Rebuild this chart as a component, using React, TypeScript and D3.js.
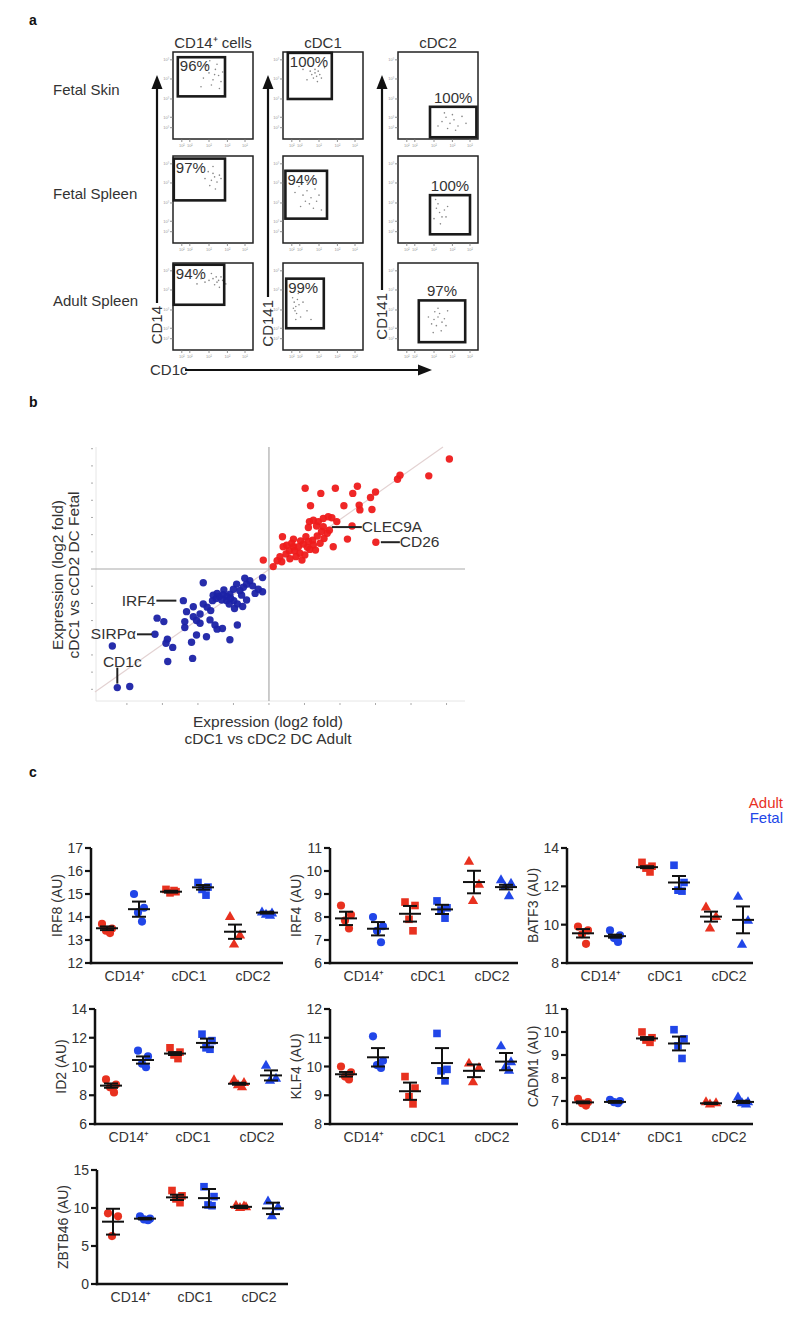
import React from "react";
import * as d3 from "d3";

// ---------------- Panel a data ----------------
const facsRowLabels = ["Fetal Skin", "Fetal Spleen", "Adult Spleen"];
const facsColLabels = ["CD14⁺ cells", "cDC1", "cDC2"];
const facsYAxisLabels = ["CD14", "CD141", "CD141"];
const facsPercents = [
  ["96%", "100%", "100%"],
  ["97%", "94%", "100%"],
  ["94%", "99%", "97%"],
];
// gates [x0, x1, y0, y1] in plot units (0..100, y up)
const facsGates = [
  [[6, 65, 49, 94], [6, 61, 46, 99], [40, 98, 2, 37]],
  [[1, 65, 49, 97], [3, 55, 28, 83], [40, 90, 10, 55]],
  [[1, 64, 52, 98], [4, 51, 25, 82], [26, 84, 9, 57]],
];
const facsDots = [
  [
    [[38,70],[45,76],[50,68],[53,80],[57,73],[60,66],[48,62],[42,84],[55,86],[62,77],[35,60],[52,74],[58,58],[46,90]],
    [[36,74],[40,76],[42,72],[38,70],[44,78],[40,80],[46,74],[34,78],[48,70],[30,68],[43,66],[52,82],[25,80]],
    [[55,20],[60,25],[65,18],[70,22],[75,15],[62,12],[80,26],[58,30],[68,28],[85,18],[72,10],[50,15]],
  ],
  [
    [[48,72],[52,76],[50,80],[55,70],[46,66],[58,78],[44,82],[53,62],[60,74],[40,74],[50,88]],
    [[25,55],[30,60],[35,52],[28,48],[40,62],[20,65],[33,45],[45,55],[38,40],[22,42],[30,70],[42,48],[15,58],[48,38]],
    [[48,40],[52,35],[55,30],[50,45],[58,38],[45,28],[62,42],[53,22],[47,50],[60,30]],
  ],
  [
    [[45,80],[50,82],[55,78],[60,84],[52,75],[40,78],[35,82],[58,72],[62,80],[48,88],[30,76],[66,76],[54,84],[57,80]],
    [[14,55],[16,50],[15,45],[18,58],[13,48],[17,42],[20,52],[12,60],[22,38],[25,55],[30,45],[19,65],[35,35],[16,35]],
    [[45,35],[50,38],[55,32],[48,28],[52,42],[58,36],[42,30],[46,44],[60,28],[38,38],[54,22],[62,45],[50,48],[44,20]],
  ],
];
const facsXTicks = [11, 21, 45, 68, 90];
const facsYTicks = [13, 25, 46, 69, 91];

// ---------------- Panel b data ----------------
const cdc1Red: [number, number][] = [
  [5.08,3.2],[4.5,2.71],[3.69,2.73],[3.62,2.61],[1.02,2.35],[1.46,2.2],[1.87,2.35],[2.49,2.41],[2.36,2.2],[3.0,2.24],
  [2.86,2.08],[1.17,1.84],[2.11,1.84],[2.54,1.86],[2.9,1.73],[2.56,1.72],[1.14,1.38],[1.25,1.42],[1.39,1.38],[1.53,1.47],
  [1.67,1.52],[1.77,1.49],[1.34,1.25],[1.53,1.23],[1.11,1.21],[1.7,1.13],[2.34,1.25],[2.21,0.87],[3.01,0.78],[0.38,0.94],
  [0.69,0.87],[0.89,0.82],[1.04,0.94],[1.23,0.84],[1.36,0.96],[1.55,0.89],[1.64,1.04],[1.25,0.7],[1.08,0.63],[0.69,0.65],
  [0.57,0.53],[0.48,0.44],[0.31,0.36],[0.23,0.24],[0.87,0.46],[0.76,0.36],[0.59,0.3],[0.93,0.26],[0.72,0.53],[1.15,0.57],
  [1.31,0.55],[0.5,0.69],[0.97,0.73],[-0.16,0.26],[0.12,0.07],[0.4,0.65],[0.83,0.65],[1.01,0.41],[1.48,1.09],[1.91,1.38],
  [1.81,0.65],[0.64,0.75],[1.11,0.8],[0.36,0.21],[1.44,0.75],
];
const cdc2Blue: [number, number][] = [
  [-0.18,-0.25],[-0.18,-0.66],[-0.3,-0.59],[-0.54,-0.34],[-0.63,-0.44],[-0.46,-0.49],[-0.72,-0.53],[-0.82,-0.63],[-0.91,-0.44],[-1.0,-0.59],
  [-1.1,-0.73],[-1.19,-0.8],[-1.29,-0.75],[-1.4,-0.8],[-1.49,-0.86],[-1.59,-0.92],[-1.46,-0.71],[-1.27,-0.61],[-1.19,-0.92],[-0.99,-0.92],
  [-0.89,-1.02],[-0.74,-1.09],[-0.97,-1.15],[-1.12,-1.02],[-1.85,-0.4],[-2.41,-0.92],[-2.32,-1.24],[-2.13,-1.39],[-2.04,-1.5],[-1.94,-1.31],
  [-1.85,-1.02],[-1.74,-1.11],[-1.64,-1.21],[-3.15,-1.43],[-2.96,-1.53],[-3.21,-1.9],[-2.37,-1.7],[-2.37,-1.53],[-2.04,-1.92],[-1.76,-1.97],
  [-1.52,-1.63],[-1.46,-1.75],[-1.31,-1.73],[-0.89,-1.63],[-1.1,-2.06],[-2.86,-2.04],[-2.9,-2.16],[-2.71,-2.28],[-2.18,-2.13],[-2.85,-2.69],
  [-2.15,-2.6],[-4.41,-2.24],[-4.27,-3.45],[-3.92,-3.42],[-1.66,-1.48],[-1.57,-0.76],[-1.33,-0.9],[-1.08,-0.85],[-0.77,-0.76],[-0.68,-0.27],
  [-0.39,-0.71],[-1.94,-1.58],[-2.13,-1.1],[-0.63,-0.9],
];
const bLabels = ["CLEC9A", "CD26", "IRF4", "SIRPα", "CD1c"];
const bLabelPoints: [number, number][] = [[1.77, 1.22], [3.01, 0.78], [-2.41, -0.92], [-3.21, -1.9], [-4.27, -3.45]];
const bXTicks = [-4, -3, -2, -1, 0, 1, 2, 3, 4, 5];
const bYTicks = [-3.5, -3, -2.5, -2, -1.5, -1, -0.5, 0, 0.5, 1, 1.5, 2, 2.5, 3, 3.5];
const bDiagonal: [number, number][] = [[-4.9, -3.58], [4.9, 3.55]];

// ---------------- Panel c data ----------------
const cellTypes = ["CD14⁺", "cDC1", "cDC2"];
const groupKeys = ["CD14-A", "CD14-F", "cDC1-A", "cDC1-F", "cDC2-A", "cDC2-F"];
const genes = ["IRF8", "IRF4", "BATF3", "ID2", "KLF4", "CADM1", "ZBTB46"];
const yDomains = [[12, 17], [6, 11], [8, 14], [6, 14], [8, 12], [6, 11], [0, 15]];
const yTickValues = [
  [12, 13, 14, 15, 16, 17], [6, 7, 8, 9, 10, 11], [8, 10, 12, 14], [6, 8, 10, 12, 14],
  [8, 9, 10, 11, 12], [6, 7, 8, 9, 10, 11], [0, 5, 10, 15],
];
// order: Adult CD14, Fetal CD14, Adult cDC1, Fetal cDC1, Adult cDC2, Fetal cDC2
const irf8Points = [[13.7,13.5,13.4,13.3],[15.0,14.4,14.2,13.8],[15.2,15.1,15.05,15.15],[15.5,15.3,15.2,14.95],[14.0,13.2,12.8],[14.2,14.15,14.1,14.05]];
const irf8Means = [13.51, 14.34, 15.1, 15.29, 13.36, 14.19];
const irf8Errs = [0.08, 0.33, 0.04, 0.1, 0.31, 0.04];
const irf4Points = [[8.5,8.1,7.85,7.5],[8.0,7.6,7.4,6.9],[8.65,8.5,7.9,7.4],[8.7,8.4,8.3,7.95],[10.4,9.4,8.7],[9.6,9.45,9.3,8.9]];
const irf4Means = [7.94, 7.49, 8.14, 8.33, 9.52, 9.3];
const irf4Errs = [0.29, 0.29, 0.34, 0.2, 0.49, 0.1];
const batf3Points = [[9.9,9.7,9.5,9.0],[9.7,9.45,9.3,9.1],[13.25,13.05,12.95,12.75],[13.1,12.2,11.8,11.75],[10.9,10.4,9.8],[11.45,10.2,8.95]];
const batf3Means = [9.55, 9.4, 13.0, 12.2, 10.42, 10.25];
const batf3Errs = [0.22, 0.08, 0.05, 0.34, 0.26, 0.7];
const id2Points = [[9.1,8.75,8.55,8.2],[11.1,10.7,10.2,9.95],[11.3,11.0,10.8,10.55],[12.25,11.8,11.3,11.2],[9.05,8.85,8.7,8.55],[10.05,9.15,9.0]];
const id2Means = [8.67, 10.45, 10.9, 11.64, 8.8, 9.38];
const id2Errs = [0.15, 0.25, 0.1, 0.3, 0.07, 0.35];
const klf4Points = [[10.0,9.8,9.65,9.55],[11.05,10.2,10.05,9.95],[9.65,9.25,8.95,8.7],[11.15,9.9,9.85,9.5],[10.1,9.95,9.45],[10.7,10.15,9.95,9.85]];
const klf4Means = [9.73, 10.32, 9.14, 10.12, 9.85, 10.17];
const klf4Errs = [0.08, 0.32, 0.3, 0.52, 0.22, 0.3];
const cadm1Points = [[7.1,6.95,6.9,6.8],[7.05,7.0,6.95,6.9],[10.0,9.75,9.65,9.55],[10.1,9.7,9.4,8.85],[6.95,6.9,6.85],[7.15,6.95,6.9,6.85]];
const cadm1Means = [6.94, 6.96, 9.72, 9.5, 6.9, 6.96];
const cadm1Errs = [0.04, 0.04, 0.06, 0.3, 0.03, 0.05];
const zbtb46Points = [[9.3,8.9,6.3],[8.9,8.6,8.5,8.4],[12.3,11.6,11.2,10.7],[12.8,11.5,10.4,10.3],[10.3,10.1,10.0,10.2],[10.85,10.1,8.9]];
const zbtb46Means = [8.2, 8.6, 11.4, 11.3, 10.15, 9.95];
const zbtb46Errs = [1.7, 0.1, 0.35, 1.2, 0.15, 0.75];

const allPoints = [irf8Points, irf4Points, batf3Points, id2Points, klf4Points, cadm1Points, zbtb46Points];
const allMeans = [irf8Means, irf4Means, batf3Means, id2Means, klf4Means, cadm1Means, zbtb46Means];
const allErrs = [irf8Errs, irf4Errs, batf3Errs, id2Errs, klf4Errs, cadm1Errs, zbtb46Errs];

// ---------------- styles / layout ----------------
const FONT = "'Liberation Sans', Arial, Helvetica, sans-serif";
const TXT = "#333";
const RED_C = "#e8311f";
const BLUE_C = "#2146e8";
const RED_B = "#ee1b1b";
const BLUE_B = "#1b22a6";

const subplotLayout = [
  { x0: 91, x1: 283, top: 848, bottom: 963 },
  { x0: 330, x1: 518, top: 848, bottom: 963 },
  { x0: 567, x1: 753, top: 848, bottom: 963 },
  { x0: 95, x1: 283, top: 1009, bottom: 1124 },
  { x0: 330, x1: 518, top: 1009, bottom: 1124 },
  { x0: 567, x1: 753, top: 1009, bottom: 1124 },
  { x0: 97, x1: 288, top: 1170, bottom: 1284 },
];
const jitter = [-5, 5, -1, 3];

function Arrow({ x1, y1, x2, y2 }: { x1: number; y1: number; x2: number; y2: number }) {
  const ang = Math.atan2(y2 - y1, x2 - x1);
  const len = 14, half = 5.5;
  const bx = x2 - len * Math.cos(ang), by = y2 - len * Math.sin(ang);
  const px = -Math.sin(ang) * half, py = Math.cos(ang) * half;
  return (
    <g>
      <line x1={x1} y1={y1} x2={bx} y2={by} stroke="#111" strokeWidth={2.2} />
      <path d={`M${x2},${y2}L${bx + px},${by + py}L${bx - px},${by - py}Z`} fill="#111" />
    </g>
  );
}

function PanelA() {
  const colX = [173, 283, 398];
  const rowY = [52, 156, 263];
  const boxW = 80, boxH = 87;
  const arrowX = [157, 268, 382];
  const arrowBottom = [303, 297, 290];
  return (
    <g fontFamily={FONT}>
      <text x={29} y={25} fontSize={14} fontWeight="bold" fill="#111">a</text>
      {facsColLabels.map((l, c) => (
        <text key={l} x={colX[c] + boxW / 2} y={48} textAnchor="middle" fontSize={15} fill={TXT}>{l}</text>
      ))}
      {facsRowLabels.map((l, r) => (
        <text key={l} x={53} y={rowY[r] + 43} fontSize={15} fill={TXT}>{l}</text>
      ))}
      {facsRowLabels.map((_, r) =>
        facsColLabels.map((_, c) => {
          const bx = colX[c], by = rowY[r];
          const xs = d3.scaleLinear().domain([0, 100]).range([bx, bx + boxW]);
          const ys = d3.scaleLinear().domain([0, 100]).range([by + boxH, by]);
          const g = facsGates[r][c];
          const gx = xs(g[0]), gy = ys(g[3]), gw = xs(g[1]) - xs(g[0]), gh = ys(g[2]) - ys(g[3]);
          return (
            <g key={`${r}-${c}`}>
              <rect x={bx} y={by} width={boxW} height={boxH} fill="none" stroke="#222" strokeWidth={1.5} />
              {facsXTicks.map((t) => (
                <g key={`x${t}`}>
                  <line x1={xs(t)} x2={xs(t)} y1={by + boxH} y2={by + boxH + 3} stroke="#777" strokeWidth={0.8} />
                  <text x={xs(t)} y={by + boxH + 8} fontSize={4} fill="#999" textAnchor="middle">10²</text>
                </g>
              ))}
              {facsYTicks.map((t) => (
                <g key={`y${t}`}>
                  <line x1={bx - 3} x2={bx} y1={ys(t)} y2={ys(t)} stroke="#777" strokeWidth={0.8} />
                  <text x={bx - 4} y={ys(t) + 1.5} fontSize={4} fill="#999" textAnchor="end">10³</text>
                </g>
              ))}
              {facsDots[r][c].map((p, i) => (
                <circle key={i} cx={xs(p[0])} cy={ys(p[1])} r={0.8} fill="#888" />
              ))}
              <rect x={gx} y={gy} width={gw} height={gh} fill="none" stroke="#1a1a1a" strokeWidth={2.6} />
              {c < 2 ? (
                <text x={gx + 2} y={gy + 14} fontSize={15} fill={TXT}>{facsPercents[r][c]}</text>
              ) : (
                <text x={gx + gw / 2} y={gy - 4} fontSize={15} fill={TXT} textAnchor="middle">{facsPercents[r][c]}</text>
              )}
            </g>
          );
        })
      )}
      {arrowX.map((x, i) => (
        <g key={i}>
          <Arrow x1={x} y1={arrowBottom[i]} x2={x} y2={75} />
          <text transform={`translate(${x + 5},${arrowBottom[i] + 3}) rotate(-90)`} textAnchor="end" fontSize={15} fill={TXT}>
            {facsYAxisLabels[i]}
          </text>
        </g>
      ))}
      <text x={150} y={375} fontSize={15} fill={TXT}>CD1c</text>
      <Arrow x1={185} y1={370} x2={432} y2={370} />
    </g>
  );
}

function PanelB() {
  const xs = d3.scaleLinear().domain([-4.87, 5.52]).range([96, 465]);
  const ys = d3.scaleLinear().domain([-3.84, 3.55]).range([701, 447]);
  const lp = bLabelPoints.map((p) => [xs(p[0]), ys(p[1])]);
  return (
    <g fontFamily={FONT}>
      <text x={29} y={407} fontSize={14} fontWeight="bold" fill="#111">b</text>
      {/* frame */}
      <line x1={96} x2={96} y1={447} y2={701} stroke="#e6e6e6" strokeWidth={1} />
      <line x1={96} x2={465} y1={701} y2={701} stroke="#e6e6e6" strokeWidth={1} />
      {bYTicks.map((t) => (
        <line key={t} x1={91} x2={93} y1={ys(t)} y2={ys(t)} stroke="#aaa" strokeWidth={1} />
      ))}
      {bXTicks.map((t) => (
        <line key={t} x1={xs(t)} x2={xs(t)} y1={703} y2={705} stroke="#aaa" strokeWidth={1} />
      ))}
      <line x1={xs(bDiagonal[0][0])} y1={ys(bDiagonal[0][1])} x2={xs(bDiagonal[1][0])} y2={ys(bDiagonal[1][1])} stroke="#e3d2d2" strokeWidth={1.2} />
      <line x1={xs(0)} x2={xs(0)} y1={447} y2={701} stroke="#aaa" strokeWidth={1.2} />
      <line x1={93} x2={465} y1={ys(0)} y2={ys(0)} stroke="#aaa" strokeWidth={1.2} />
      {cdc1Red.map((p, i) => (
        <circle key={`r${i}`} cx={xs(p[0])} cy={ys(p[1])} r={3.7} fill={RED_B} opacity={0.95} />
      ))}
      {cdc2Blue.map((p, i) => (
        <circle key={`b${i}`} cx={xs(p[0])} cy={ys(p[1])} r={3.7} fill={BLUE_B} opacity={0.95} />
      ))}
      {/* annotations */}
      <line x1={lp[0][0]} x2={lp[0][0] + 30} y1={lp[0][1]} y2={lp[0][1]} stroke="#222" strokeWidth={2} />
      <text x={lp[0][0] + 30} y={lp[0][1] + 5} fontSize={15.5} fill={TXT}>{bLabels[0]}</text>
      <line x1={lp[1][0] + 5} x2={lp[1][0] + 24} y1={lp[1][1]} y2={lp[1][1]} stroke="#222" strokeWidth={2} />
      <text x={lp[1][0] + 24} y={lp[1][1] + 5} fontSize={15.5} fill={TXT}>{bLabels[1]}</text>
      <line x1={lp[2][0] - 27} x2={lp[2][0] - 7} y1={lp[2][1]} y2={lp[2][1]} stroke="#222" strokeWidth={2} />
      <text x={lp[2][0] - 28} y={lp[2][1] + 5} fontSize={15.5} fill={TXT} textAnchor="end">{bLabels[2]}</text>
      <line x1={lp[3][0] - 18} x2={lp[3][0] - 3} y1={lp[3][1]} y2={lp[3][1]} stroke="#222" strokeWidth={2} />
      <text x={lp[3][0] - 19} y={lp[3][1] + 5} fontSize={15.5} fill={TXT} textAnchor="end">{bLabels[3]}</text>
      <line x1={lp[4][0]} x2={lp[4][0]} y1={lp[4][1] - 4} y2={lp[4][1] - 20} stroke="#222" strokeWidth={2} />
      <text x={lp[4][0] + 5} y={lp[4][1] - 21} fontSize={15.5} fill={TXT} textAnchor="middle">{bLabels[4]}</text>
      {/* axis titles */}
      <text x={268} y={727} fontSize={15.5} fill={TXT} textAnchor="middle">Expression (log2 fold)</text>
      <text x={268} y={744} fontSize={15.5} fill={TXT} textAnchor="middle">cDC1 vs cDC2 DC Adult</text>
      <text transform="translate(63,575) rotate(-90)" fontSize={15.5} fill={TXT} textAnchor="middle">Expression (log2 fold)</text>
      <text transform="translate(79,575) rotate(-90)" fontSize={15.5} fill={TXT} textAnchor="middle">cDC1 vs cCD2 DC Fetal</text>
    </g>
  );
}

const symCircle = d3.symbol().type(d3.symbolCircle).size(52)() as string;
const symSquare = d3.symbol().type(d3.symbolSquare).size(58)() as string;
const symTriangle = d3.symbol().type(d3.symbolTriangle).size(46)() as string;
const groupSymbols = [symCircle, symCircle, symSquare, symSquare, symTriangle, symTriangle];

function Subplot({ idx }: { idx: number }) {
  const L = subplotLayout[idx];
  const ys = d3.scaleLinear().domain(yDomains[idx]).range([L.bottom, L.top]);
  const xs = d3.scalePoint().domain(groupKeys).range([L.x0 + 16, L.x0 + 176]);
  const pts = allPoints[idx], means = allMeans[idx], errs = allErrs[idx];
  return (
    <g>
      {groupKeys.map((k, gi) =>
        pts[gi].map((v, pi) => (
          <path
            key={`${k}-${pi}`}
            d={groupSymbols[gi]}
            transform={`translate(${(xs(k) as number) + jitter[pi]},${ys(v)})`}
            fill={gi % 2 === 0 ? RED_C : BLUE_C}
          />
        ))
      )}
      {groupKeys.map((k, gi) => {
        const cx = xs(k) as number;
        const m = ys(means[gi]), hi = ys(means[gi] + errs[gi]), lo = ys(means[gi] - errs[gi]);
        return (
          <g key={`m${k}`} stroke="#111" strokeWidth={2}>
            <line x1={cx - 11} x2={cx + 11} y1={m} y2={m} />
            <line x1={cx} x2={cx} y1={hi} y2={lo} />
            <line x1={cx - 7} x2={cx + 7} y1={hi} y2={hi} />
            <line x1={cx - 7} x2={cx + 7} y1={lo} y2={lo} />
          </g>
        );
      })}
      <line x1={L.x0} x2={L.x0} y1={L.top} y2={L.bottom + 1.2} stroke="#111" strokeWidth={2.5} />
      <line x1={L.x0 - 1.2} x2={L.x1} y1={L.bottom} y2={L.bottom} stroke="#111" strokeWidth={2.5} />
      {yTickValues[idx].map((t) => (
        <g key={t}>
          <line x1={L.x0 - 6} x2={L.x0} y1={ys(t)} y2={ys(t)} stroke="#111" strokeWidth={2.2} />
          <text x={L.x0 - 8} y={ys(t) + 5} fontSize={14} fill={TXT} textAnchor="end">{t}</text>
        </g>
      ))}
      {cellTypes.map((c, ci) => {
        const cx = ((xs(groupKeys[ci * 2]) as number) + (xs(groupKeys[ci * 2 + 1]) as number)) / 2 + 2;
        return (
          <text key={c} x={cx} y={L.bottom + 18} fontSize={14} fill={TXT} textAnchor="middle">{c}</text>
        );
      })}
      <text
        transform={`translate(${L.x0 - 29},${(L.top + L.bottom) / 2}) rotate(-90)`}
        fontSize={14}
        fill={TXT}
        textAnchor="middle"
      >
        {genes[idx]} (AU)
      </text>
    </g>
  );
}

function PanelC() {
  return (
    <g fontFamily={FONT}>
      <text x={29} y={777} fontSize={14} fontWeight="bold" fill="#111">c</text>
      <text x={783} y={808} fontSize={15} fill={RED_C} textAnchor="end">Adult</text>
      <text x={783} y={823} fontSize={15} fill={BLUE_C} textAnchor="end">Fetal</text>
      {genes.map((g, i) => (
        <Subplot key={g} idx={i} />
      ))}
    </g>
  );
}

export default function App() {
  return (
    <svg
      width={800}
      height={1319}
      viewBox="0 0 800 1319"
      style={{ position: "absolute", left: 0, top: 0, background: "#fff" }}
    >
      <rect x={0} y={0} width={800} height={1319} fill="#fff" />
      <PanelA />
      <PanelB />
      <PanelC />
    </svg>
  );
}
